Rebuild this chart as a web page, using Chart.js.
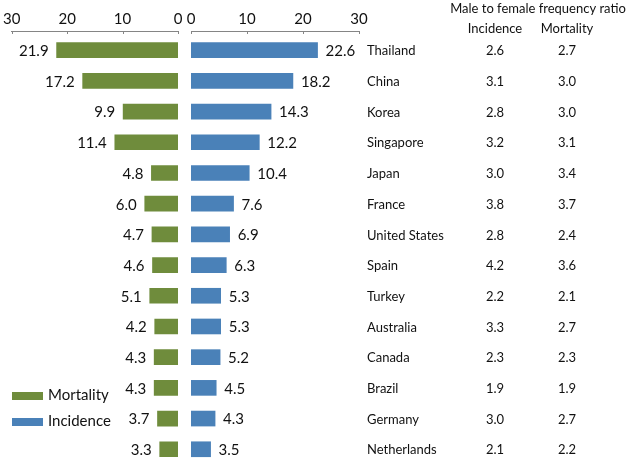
<!DOCTYPE html>
<html>
<head>
<meta charset="utf-8">
<script src="https://cdn.jsdelivr.net/npm/chart.js@4.4.1/dist/chart.umd.min.js"></script>
<style>
  html, body { margin:0; padding:0; background:#fff; overflow:hidden; }
  #wrap { position:relative; width:630px; height:460px; }
  canvas { position:absolute; left:0; top:0; }
</style>
</head>
<body>
<div id="wrap">
  <canvas id="left" width="630" height="460"></canvas>
  <canvas id="right" width="630" height="460"></canvas>
</div>
<script>
const categories = ['Thailand','China','Korea','Singapore','Japan','France','United States','Spain','Turkey','Australia','Canada','Brazil','Germany','Netherlands'];
const mortality = [21.9,17.2,9.9,11.4,4.8,6.0,4.7,4.6,5.1,4.2,4.3,4.3,3.7,3.3];
const incidence = [22.6,18.2,14.3,12.2,10.4,7.6,6.9,6.3,5.3,5.3,5.2,4.5,4.3,3.5];
const ratioIncidence = [2.6,3.1,2.8,3.2,3.0,3.8,2.8,4.2,2.2,3.3,2.3,1.9,3.0,2.1];
const ratioMortality = [2.7,3.0,3.0,3.1,3.4,3.7,2.4,3.6,2.1,2.7,2.3,1.9,2.7,2.2];
const seriesNames = ['Mortality','Incidence'];
const tableTitle = 'Male to female frequency ratio';
const tableHeaders = ['Incidence','Mortality'];
const axisMin = 0, axisMax = 30, axisStep = 10;

const GREEN = '#6f8c3c';
const BLUE = '#4a81b8';
const TEXT = '#111';
const AXIS = '#858585';
const FONT = 'Lato, "Open Sans", sans-serif';

function xScale(reverse) {
  return {
    type: 'linear', position: 'top', min: axisMin, max: axisMax, reverse: reverse,
    ticks: { stepSize: axisStep, color: TEXT, font: { family: FONT, size: 15 }, padding: 3 },
    grid: { display: false, drawTicks: false },
    border: { display: true, color: AXIS, width: 1 },
    afterFit(s) { s.height = 31; }
  };
}
const yScale = { type: 'linear', min: -0.625, max: 13.35, reverse: true, offset: false, display: false };

const tickMarks = {
  id: 'tickMarks',
  afterDraw(chart) {
    const ctx = chart.ctx, xs = chart.scales.x, top = chart.chartArea.top;
    ctx.save();
    ctx.strokeStyle = AXIS; ctx.lineWidth = 1;
    xs.ticks.forEach(t => {
      const px = Math.round(xs.getPixelForValue(t.value)) + 0.5;
      ctx.beginPath(); ctx.moveTo(px, top); ctx.lineTo(px, top + 3); ctx.stroke();
    });
    ctx.restore();
  }
};

const valueLabels = {
  id: 'valueLabels',
  afterDatasetsDraw(chart, args, opts) {
    const ctx = chart.ctx;
    const meta = chart.getDatasetMeta(0);
    const vals = chart.data.datasets[0].data;
    ctx.save();
    ctx.fillStyle = TEXT;
    ctx.font = '15px ' + FONT;
    ctx.textBaseline = 'middle';
    ctx.textAlign = opts.side === 'left' ? 'right' : 'left';
    meta.data.forEach((bar, i) => {
      const x = opts.side === 'left' ? bar.x - 8 : bar.x + 8;
      ctx.fillText(vals[i].x.toFixed(1), x, bar.y + 1);
    });
    ctx.restore();
  }
};

const legendBox = {
  id: 'legendBox',
  afterDraw(chart) {
    const ctx = chart.ctx;
    const ys = chart.scales.y;
    ctx.save();
    ctx.font = '15px ' + FONT;
    ctx.textBaseline = 'middle';
    ctx.textAlign = 'left';
    const rows = [[seriesNames[0], GREEN, ys.getPixelForValue(11.25)], [seriesNames[1], BLUE, ys.getPixelForValue(12.1)]];
    rows.forEach(([name, col, y]) => {
      ctx.fillStyle = col;
      ctx.fillRect(12, Math.round(y) - 4, 31, 8);
      ctx.fillStyle = TEXT;
      ctx.fillText(name, 48, y);
    });
    ctx.restore();
  }
};

const sideTable = {
  id: 'sideTable',
  afterDraw(chart) {
    const ctx = chart.ctx;
    const ys = chart.scales.y;
    ctx.save();
    ctx.fillStyle = TEXT;
    ctx.font = '13px ' + FONT;
    ctx.textBaseline = 'middle';
    ctx.textAlign = 'center';
    ctx.fillText(tableTitle, 538, 9);
    ctx.fillText(tableHeaders[0], 495, 29);
    ctx.fillText(tableHeaders[1], 567, 29);
    categories.forEach((c, i) => {
      const y = ys.getPixelForValue(i) + 1;
      ctx.textAlign = 'left';
      ctx.fillText(c, 367, y);
      ctx.textAlign = 'center';
      ctx.fillText(ratioIncidence[i].toFixed(1), 495, y);
      ctx.fillText(ratioMortality[i].toFixed(1), 567, y);
    });
    ctx.restore();
  }
};

const common = {
  indexAxis: 'y', responsive: false, animation: false,
  plugins: { legend: { display: false }, tooltip: { enabled: false } }
};

new Chart(document.getElementById('left'), {
  type: 'bar',
  data: { datasets: [{ label: seriesNames[0], data: mortality.map((v, i) => ({ x: v, y: i })), backgroundColor: GREEN, barThickness: 15 }] },
  options: Object.assign({}, common, {
    layout: { padding: { left: 9, right: 452, top: 0, bottom: 0 } },
    scales: { x: xScale(true), y: yScale },
    plugins: Object.assign({}, common.plugins, { valueLabels: { side: 'left' } })
  }),
  plugins: [tickMarks, valueLabels, legendBox]
});

new Chart(document.getElementById('right'), {
  type: 'bar',
  data: { datasets: [{ label: seriesNames[1], data: incidence.map((v, i) => ({ x: v, y: i })), backgroundColor: BLUE, barThickness: 15 }] },
  options: Object.assign({}, common, {
    layout: { padding: { left: 191, right: 271, top: 0, bottom: 0 } },
    scales: { x: xScale(false), y: yScale },
    plugins: Object.assign({}, common.plugins, { valueLabels: { side: 'right' } })
  }),
  plugins: [tickMarks, valueLabels, sideTable]
});
</script>
</body>
</html>
